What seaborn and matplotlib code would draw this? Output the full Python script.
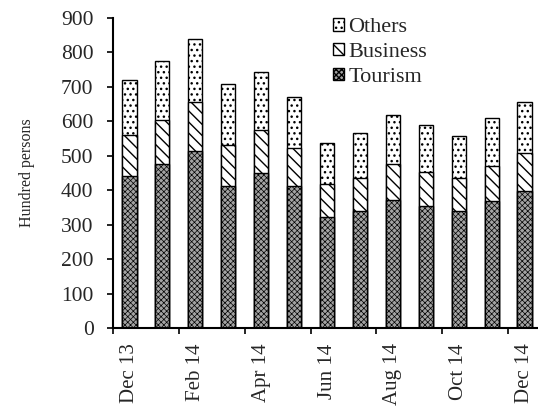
import numpy as np
import pandas as pd
import matplotlib
matplotlib.use("Agg")
import matplotlib.pyplot as plt
import seaborn as sns

# Monthly visitor arrivals, hundred persons, by purpose of visit
months = ["Dec 13", "Jan 14", "Feb 14", "Mar 14", "Apr 14", "May 14", "Jun 14",
          "Jul 14", "Aug 14", "Sep 14", "Oct 14", "Nov 14", "Dec 14"]
tourism = [440, 475, 513, 412, 451, 413, 321, 340, 373, 354, 340, 369, 398]
business = [119, 129, 143, 120, 124, 110, 97, 95, 102, 100, 96, 101, 109]
others = [160, 171, 182, 176, 168, 148, 118, 131, 143, 135, 120, 140, 149]
shown_labels = ["Dec 13", "Feb 14", "Apr 14", "Jun 14", "Aug 14", "Oct 14", "Dec 14"]
y_ticks = [0, 100, 200, 300, 400, 500, 600, 700, 800, 900]

sns.set_theme(style="white")
plt.rcParams["font.family"] = ["Liberation Serif", "DejaVu Serif"]
plt.rcParams["hatch.linewidth"] = 1.0
plt.rcParams["hatch.color"] = "black"

df = pd.DataFrame({
    "month": months,
    "tourism": tourism,
    "business": business,
    "others": others,
})
# cumulative tops for the stacked layers
df["tb"] = df["tourism"] + df["business"]
df["total"] = df["tb"] + df["others"]

W, H = 538, 407
fig = plt.figure(figsize=(W / 100, H / 100), dpi=100)
ax = fig.add_axes([113 / W, 1 - 328 / H, 428 / W, 310 / H])

TOURISM_FACE = "#a3a3a3"
bar_kw = dict(x="month", order=months, width=0.43, edgecolor="black",
              linewidth=1.0, ax=ax, zorder=2, legend=False)
sns.barplot(data=df, y="total", color="white", hatch="...", label="Others", **bar_kw)
n_before = len(ax.patches)
sns.barplot(data=df, y="tb", color="white", hatch="\\\\\\", label="Business", **bar_kw)
n_mid = len(ax.patches)
sns.barplot(data=df, y="tourism", color=TOURISM_FACE, hatch="xxxxxx", label="Tourism", **bar_kw)

# finer cross-hatch on the tourism layer
for p in ax.patches[n_mid:]:
    if hasattr(p, "set_hatch_linewidth"):
        p.set_hatch_linewidth(0.5)
    p.set_facecolor(TOURISM_FACE)
for p in ax.patches[:n_mid]:
    p.set_facecolor("white")

ax.set_xlim(-0.5, len(months) - 0.5)
ax.set_ylim(0, 900)
ax.set_yticks(y_ticks)
ax.set_yticklabels([str(v) for v in y_ticks])

# tick marks between category pairs, labels under every other month
ax.set_xticks(np.arange(-0.5, len(months) - 0.5, 2))
ax.set_xticklabels([])
ax.set_xticks([months.index(m) for m in shown_labels], minor=True)
ax.set_xticklabels(shown_labels, minor=True, rotation=90, ha="center", va="top",
                   fontsize=15)
ax.tick_params(axis="x", which="major", direction="out", length=4.5, width=1.2,
               color="black", bottom=True)
ax.tick_params(axis="x", which="minor", length=0, pad=11, bottom=True)
ax.tick_params(axis="y", direction="out", length=4.5, width=1.2, color="black",
               labelsize=15.5, pad=9.5, left=True)

ax.set_xlabel("")
ax.set_ylabel("Hundred persons", fontsize=11.5, labelpad=19)

for s in ["top", "right"]:
    ax.spines[s].set_visible(False)
for s in ["left", "bottom"]:
    ax.spines[s].set_color("black")
    ax.spines[s].set_linewidth(1.5)

if ax.get_legend() is not None:
    ax.get_legend().remove()

handles = [ax.patches[0], ax.patches[n_before], ax.patches[n_mid]]
labels = ["Others", "Business", "Tourism"]
fig.legend(handles, labels, loc="upper left", bbox_to_anchor=(333 / W, 1 - 18 / H),
           frameon=False, fontsize=16, handlelength=0.5, handleheight=0.5,
           handletextpad=0.2, labelspacing=0.25, borderpad=0, borderaxespad=0)

fig.savefig("out.png", dpi=100)
